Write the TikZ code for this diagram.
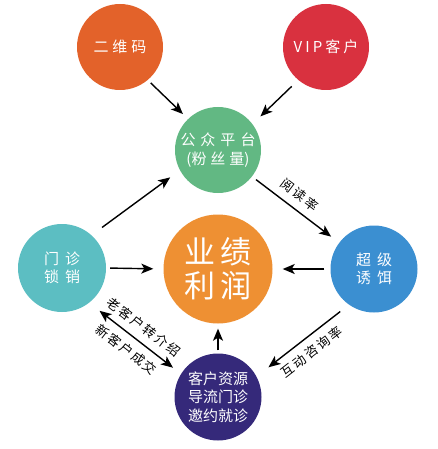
\documentclass[tikz,border=0pt]{standalone}
\usepackage{fontspec}
\setmainfont{Noto Sans CJK SC}
\usetikzlibrary{arrows.meta}
\definecolor{cEwm}{HTML}{E3622A}
\definecolor{cVip}{HTML}{D9313F}
\definecolor{cGz}{HTML}{62B883}
\definecolor{cYj}{HTML}{EE9033}
\definecolor{cMz}{HTML}{5CBEC2}
\definecolor{cCj}{HTML}{3B8FD1}
\definecolor{cKh}{HTML}{35297A}
\ExplSyntaxOn
\NewDocumentCommand\spc{mm}{\tl_map_inline:nn{#2}{##1\hspace{#1}}\unskip}
\ExplSyntaxOff
\begin{document}
\begin{tikzpicture}[x=1pt,y=-1pt,
  circ/.style={circle,inner sep=0pt,text=white,align=center},
  arr/.style={line width=1.4pt,-{Stealth[length=12pt,width=10pt,inset=3pt]}},
  darr/.style={line width=1.4pt,{Stealth[length=12pt,width=10pt,inset=3pt]}-{Stealth[length=12pt,width=10pt,inset=3pt]}},
  lbl/.style={font=\fontsize{13}{15}\selectfont,sloped,inner sep=7.5pt}]
\useasboundingbox (0,0) rectangle (438,449);
\node[circ,fill=cEwm,minimum size=86pt,font=\fontsize{15}{19}\selectfont] (ewm) at (120,47) {\spc{4pt}{二维码}};
\node[circ,fill=cVip,minimum size=86pt,font=\fontsize{15}{19}\selectfont] (vip) at (326,47) {\spc{3pt}{VIP客户}};
\node[circ,fill=cGz,minimum size=86pt,font=\fontsize{15}{19}\selectfont] (gz) at (218,150) {\spc{5pt}{公众平台}\\(\spc{4pt}{粉丝量})};
\node[circ,fill=cYj,minimum size=109pt,font=\fontsize{31}{34}\selectfont] (yj) at (218,269) {\spc{6pt}{业绩}\\\spc{6pt}{利润}};
\node[circ,fill=cMz,minimum size=88pt,font=\fontsize{15}{18}\selectfont] (mz) at (62,268) {\spc{6pt}{门诊}\\\spc{6pt}{锁销}};
\node[circ,fill=cCj,minimum size=87pt,font=\fontsize{15}{18}\selectfont] (cj) at (374,269) {\spc{6pt}{超级}\\\spc{6pt}{诱饵}};
\node[circ,fill=cKh,minimum size=87pt,font=\fontsize{15}{18.5}\selectfont] (kh) at (218,397) {客户资源\\导流门诊\\邀约就诊};
\draw[arr,shorten <=4pt,shorten >=7pt] (ewm.-50) -- (gz.134);
\draw[arr,shorten <=9pt,shorten >=11pt] (vip.-130) -- (gz.37);
\draw[arr,shorten <=13pt,shorten >=12pt] (mz.48) -- (gz.-152);
\draw[arr,shorten <=5pt,shorten >=10pt] (gz.-38) -- node[lbl,above,pos=0.45] {\spc{2pt}{阅读率}} (cj.143);
\draw[arr,shorten <=4pt,shorten >=10pt] (mz.0) -- (yj.180);
\draw[arr,shorten <=6pt,shorten >=10pt] (cj.180) -- (yj.0);
\draw[arr,shorten <=3pt,shorten >=5pt] (kh.90) -- (yj.-90);
\draw[arr,shorten <=11pt,shorten >=15pt] (cj.-125) -- node[lbl,below] {\spc{2pt}{互动咨询率}} (kh.28);
\draw[darr,shorten <=13pt,shorten >=10pt] (mz.-52) -- node[lbl,above] {\spc{2pt}{老客户转介绍}} node[lbl,below] {\spc{2pt}{新客户成交}} (kh.148);
\end{tikzpicture}
\end{document}
